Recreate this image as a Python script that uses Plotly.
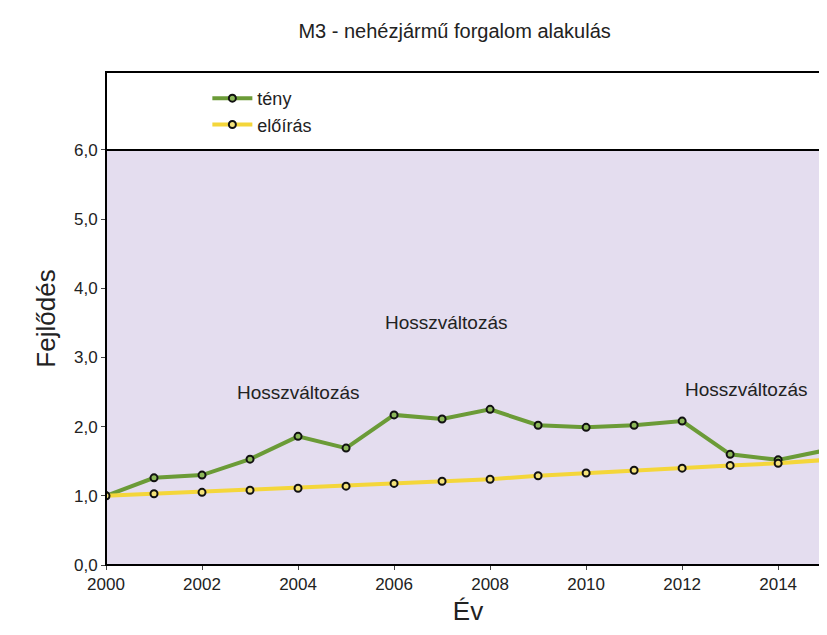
import plotly.graph_objects as go

years = list(range(2000, 2016))
teny = [1.00, 1.26, 1.30, 1.53, 1.86, 1.69, 2.17, 2.11, 2.25, 2.02, 1.99, 2.02, 2.08, 1.60, 1.52, 1.66]
eloiras = [1.00, 1.03, 1.05, 1.08, 1.11, 1.14, 1.18, 1.21, 1.24, 1.29, 1.33, 1.37, 1.40, 1.44, 1.47, 1.52]
tick_vals = [0, 1, 2, 3, 4, 5, 6]
tick_text = ["0,0", "1,0", "2,0", "3,0", "4,0", "5,0", "6,0"]
notes = [(2004.0, 2.5), (2007.1, 3.5), (2013.35, 2.54)]

fig = go.Figure()
fig.add_trace(go.Scatter(
    x=years, y=teny, name="tény", mode="lines+markers",
    line=dict(color="#6B9B37", width=4),
    marker=dict(size=7, color="#8DB85A", line=dict(color="#111", width=2)),
))
fig.add_trace(go.Scatter(
    x=years, y=eloiras, name="előírás", mode="lines+markers",
    line=dict(color="#F4D63A", width=4),
    marker=dict(size=7, color="#F4E27A", line=dict(color="#111", width=2)),
))

# purple plot region up to 6,0 and white legend band above
fig.add_shape(type="rect", xref="paper", yref="y", x0=0, x1=1, y0=0, y1=6,
              fillcolor="#E4DDEF", line=dict(width=0), layer="below")
fig.add_shape(type="line", xref="paper", yref="y", x0=0, x1=1, y0=6, y1=6,
              line=dict(color="black", width=2))
fig.add_shape(type="rect", xref="paper", yref="paper", x0=0, x1=1, y0=0, y1=1,
              line=dict(color="black", width=2))

for x, y in notes:
    fig.add_annotation(x=x, y=y, text="Hosszváltozás", showarrow=False,
                       font=dict(size=19, color="#222"))

fig.update_layout(
    width=827, height=635,
    margin=dict(l=98, r=5, t=64, b=78, autoexpand=False),
    paper_bgcolor="white", plot_bgcolor="white",
    font=dict(family="Liberation Sans, Arial", color="#222"),
    title=dict(text="M3 - nehézjármű forgalom alakulás", x=0.54, y=0.975,
               xanchor="center", font=dict(size=20)),
    legend=dict(orientation="h", x=0.14, y=0.92, yanchor="middle",
                font=dict(size=18), entrywidth=320, entrywidthmode="pixels",
                itemwidth=40, bgcolor="rgba(0,0,0,0)"),
    xaxis=dict(range=[2000, 2015.08], tickvals=list(range(2000, 2016, 2)),
               ticks="outside", ticklen=4, showgrid=False, zeroline=False, automargin=False,
               tickfont=dict(size=17), title=dict(text="Év", font=dict(size=26), standoff=8)),
    yaxis=dict(range=[0, 7.127], tickvals=tick_vals, ticktext=tick_text,
               ticks="outside", ticklen=4, showgrid=False, zeroline=False, automargin=False,
               tickfont=dict(size=17), title=dict(text="Fejlődés", font=dict(size=26), standoff=10)),
)

fig.write_html("out.html")
